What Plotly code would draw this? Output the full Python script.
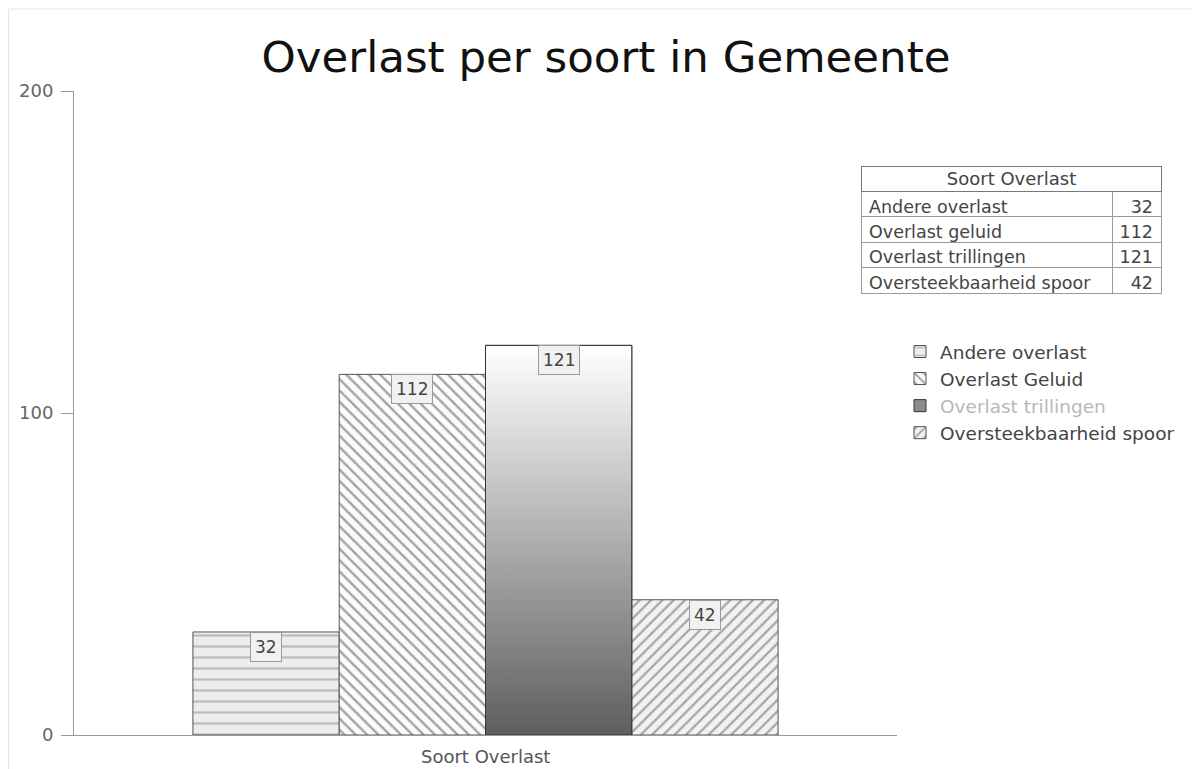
import plotly.graph_objects as go

# ---- data ----
categories = ["Andere overlast", "Overlast Geluid", "Overlast trillingen", "Oversteekbaarheid spoor"]
values = [32, 112, 121, 42]
table_labels = ["Andere overlast", "Overlast geluid", "Overlast trillingen", "Oversteekbaarheid spoor"]
table_values = [32, 112, 121, 42]
axis_title = "Soort Overlast"
chart_title = "Overlast per soort in Gemeente"
y_ticks = [0, 100, 200]

FONT = "DejaVu Sans"
W, H = 1200, 769
OFF = 8  # page offset of the figure
ML, MR, MT, MB = 66, 0, 83, 42
plot_w = W - ML - MR
plot_h = H - MT - MB
x_dom_end = 823 / plot_w


def px(xpage):
    return (xpage - OFF - ML) / plot_w


def py(ypage):
    return (H - MB - (ypage - OFF)) / plot_h


group_width = 0.711
bw = group_width / len(values)
start = -group_width / 2

patterns = [
    dict(shape="-", fgcolor="#8a8a8a", bgcolor="#ededed", size=11, solidity=0.2),
    dict(shape="\\", fgcolor="#4a4a4a", bgcolor="#fbfbfb", size=8, solidity=0.3),
    None,
    dict(shape="/", fgcolor="#5a5a5a", bgcolor="#f2f2f2", size=8, solidity=0.28),
]

fig = go.Figure()
for i, (cat, v) in enumerate(zip(categories, values)):
    off = start + i * bw
    name = cat
    if patterns[i] is None:
        marker = dict(color="#8c8c8c", line=dict(color="#333333", width=1))
        name = "<span style='color:#b8b8b8'>" + cat + "</span>"
    else:
        marker = dict(color=patterns[i]["bgcolor"], pattern=patterns[i],
                      line=dict(color="#555555", width=1))
    fig.add_trace(go.Bar(x=[0], y=[v], width=[bw], offset=[off], name=name,
                         marker=marker, hoverinfo="skip"))
    if patterns[i] is None:
        x0, x1 = off, off + bw
        fig.add_trace(go.Scatter(
            x=[x0, x0, x1, x1, x0], y=[0, v, v, 0, 0], mode="lines",
            fill="toself", showlegend=False, hoverinfo="skip",
            line=dict(color="#333333", width=1),
            fillgradient=dict(type="vertical",
                              colorscale=[[0, "#5e5e5e"], [1, "#ffffff"]]),
        ))

# value label boxes
for i, v in enumerate(values):
    cx = start + (i + 0.5) * bw
    fig.add_annotation(x=cx, y=v, xref="x", yref="y", text=str(v), showarrow=False,
                       yanchor="top", xanchor="center",
                       font=dict(family=FONT, size=17, color="#444444"),
                       bgcolor="#f1f1f1", bordercolor="#9a9a9a", borderwidth=1, borderpad=4)

# table: body rows, header row covered by a full-width header box
fig.add_trace(go.Table(
    domain=dict(x=[px(861), px(1161)], y=[py(304), py(166)]),
    columnwidth=[251, 49],
    header=dict(values=["", ""], height=25.4, fill=dict(color="white"),
                line=dict(color="#777777", width=1)),
    cells=dict(values=[table_labels, [str(v) for v in table_values]],
               align=["left", "right"], height=25.4,
               font=dict(family=FONT, size=17.5, color="#444444"),
               fill=dict(color="white"),
               line=dict(color="#9a9a9a", width=1)),
))
fig.add_annotation(xref="paper", yref="paper",
                   x=px(1011), y=py(178.7),
                   text=axis_title, showarrow=False, xanchor="center", yanchor="middle",
                   width=299, height=23.8, borderwidth=1, bordercolor="#777777", borderpad=0,
                   bgcolor="white", font=dict(family=FONT, size=18, color="#444444"))

# x-axis title
fig.add_annotation(xref="paper", yref="paper", x=px(485.5), y=py(756),
                   text=axis_title, showarrow=False, xanchor="center", yanchor="middle",
                   font=dict(family=FONT, size=18, color="#555555"))

# outer chart border (figure edge)
fig.add_shape(type="rect", xref="paper", yref="paper",
              x0=(0.5 - ML) / plot_w, x1=(W + 20 - ML) / plot_w,
              y0=-(MB + 20) / plot_h, y1=(H - MB - 1) / plot_h,
              line=dict(color="#e4e4e4", width=1), layer="below")

fig.update_layout(
    width=W, height=H,
    margin=dict(l=ML, r=MR, t=MT, b=MB, autoexpand=False),
    paper_bgcolor="white", plot_bgcolor="white",
    barmode="overlay",
    title=dict(text=chart_title, x=(606 - OFF) / W, xref="container", xanchor="center",
               y=1 - (57 - OFF) / H, yref="container", yanchor="middle",
               font=dict(family=FONT, size=43.5, color="#111111")),
    xaxis=dict(domain=[0, x_dom_end], range=[-0.5, 0.5], showticklabels=False,
               ticks="", showgrid=False, zeroline=False, showline=True,
               linecolor="#9a9a9a", linewidth=1, fixedrange=True),
    yaxis=dict(range=[0, 200], tickvals=y_ticks, showgrid=False, zeroline=False,
               showline=True, linecolor="#9a9a9a", linewidth=1,
               ticks="outside", ticklen=12, tickcolor="#9a9a9a", ticklabelstandoff=4,
               tickfont=dict(family=FONT, size=18, color="#666666"), fixedrange=True),
    legend=dict(x=px(900), y=py(333), xanchor="left", yanchor="top",
                font=dict(family=FONT, size=18.5, color="#444444"),
                bgcolor="rgba(0,0,0,0)", tracegroupgap=0),
    showlegend=True,
)

fig.write_html("out.html")
